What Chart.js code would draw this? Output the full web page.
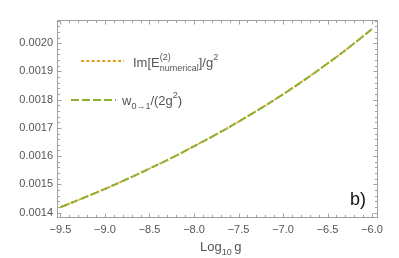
<!DOCTYPE html>
<html>
<head>
<meta charset="utf-8">
<script src="https://cdn.jsdelivr.net/npm/chart.js@4.4.0/dist/chart.umd.min.js"></script>
<style>
  html, body { margin: 0; padding: 0; background: #fff; }
  #wrap { width: 399px; height: 258px; }
</style>
</head>
<body>
<div id="wrap"><canvas id="chart"></canvas></div>
<script>
// values
const logG = [-9.5, -9.25, -9.0, -8.75, -8.5, -8.25, -8.0, -7.75, -7.5, -7.25, -7.0, -6.75, -6.5, -6.25, -6.0];
const imNumerical = [0.001419, 0.001451, 0.001484, 0.001519, 0.001556, 0.001594, 0.001635, 0.001677,
                     0.001722, 0.001769, 0.001819, 0.001872, 0.001928, 0.001987, 0.002050];
const wRate = [0.001419, 0.001451, 0.001484, 0.001519, 0.001556, 0.001594, 0.001635, 0.001677,
               0.001722, 0.001769, 0.001819, 0.001872, 0.001928, 0.001987, 0.002050];

const xTicks = [-9.5, -9.0, -8.5, -8.0, -7.5, -7.0, -6.5, -6.0];
const xTickLabels = ['\u22129.5', '\u22129.0', '\u22128.5', '\u22128.0', '\u22127.5', '\u22127.0', '\u22126.5', '\u22126.0'];
const yTicks = [0.0014, 0.0015, 0.0016, 0.0017, 0.0018, 0.0019, 0.0020];
const yTickLabels = ['0.0014', '0.0015', '0.0016', '0.0017', '0.0018', '0.0019', '0.0020'];

const ORANGE = '#E19C24';
const GREEN = '#8FB032';
const FONT = "'Liberation Sans', Arial, sans-serif";
const TEXT = '#555';

function toPoints(xs, ys)
{
      return xs.map((x, i) => ({ x: x, y: ys[i] }));
}

// text with sub/superscripts, parts drawn left to right
function richText(ctx, x, y, parts, size)
{
      const big = size + 'px ' + FONT;
      const small = Math.round(size * 0.72) + 'px ' + FONT;
      for (const p of parts)
      {
            if (p.sup !== undefined || p.sub !== undefined)
            {
                  ctx.font = small;
                  let w = 0;
                  if (p.sup) { ctx.fillText(p.sup, x, y - 7.5); w = ctx.measureText(p.sup).width; }
                  if (p.sub) { ctx.fillText(p.sub, x, y + 3.5); w = Math.max(w, ctx.measureText(p.sub).width); }
                  x += w;
            }
            else
            {
                  ctx.font = big;
                  ctx.fillText(p.t, x, y);
                  x += ctx.measureText(p.t).width;
            }
      }
}

const frameTicks = {
      id: 'frameTicks',
      afterDraw(chart)
      {
            const { ctx, chartArea: a, scales: { x, y } } = chart;
            const L = Math.round(a.left) + 0.5, R = Math.round(a.right) - 0.5;
            const T = Math.round(a.top) + 0.5, B = Math.round(a.bottom) - 0.5;
            ctx.save();
            ctx.strokeStyle = '#a0a0a0';
            ctx.lineWidth = 1;
            ctx.strokeRect(L, T, R - L, B - T);

            ctx.beginPath();
            for (let k = -96; k <= -59; k++)
            {
                  const v = k / 10;
                  if (v < x.min || v > x.max) continue;
                  const px = Math.round(x.getPixelForValue(v)) + 0.5;
                  const len = (k % 5 === 0) ? 4 : 2.5;
                  ctx.moveTo(px, B); ctx.lineTo(px, B - len);
                  ctx.moveTo(px, T); ctx.lineTo(px, T + len);
            }
            for (let k = 138; k <= 210; k += 2)
            {
                  const v = k * 1e-5;
                  if (v < y.min || v > y.max) continue;
                  const py = Math.round(y.getPixelForValue(v)) + 0.5;
                  const len = (k % 10 === 0) ? 4 : 2.5;
                  ctx.moveTo(L, py); ctx.lineTo(L + len, py);
                  ctx.moveTo(R, py); ctx.lineTo(R - len, py);
            }
            ctx.stroke();

            // legend
            ctx.lineWidth = 2;
            ctx.strokeStyle = ORANGE;
            ctx.setLineDash([3, 2.3]);
            ctx.beginPath(); ctx.moveTo(81, 61); ctx.lineTo(124, 61); ctx.stroke();
            ctx.strokeStyle = GREEN;
            ctx.setLineDash([8, 3]);
            ctx.beginPath(); ctx.moveTo(71, 100); ctx.lineTo(116, 100); ctx.stroke();
            ctx.setLineDash([]);

            ctx.fillStyle = TEXT;
            ctx.textBaseline = 'alphabetic';
            ctx.textAlign = 'left';
            richText(ctx, 133, 67, [
                  { t: 'Im[E' }, { sup: '(2)', sub: 'numerical' }, { t: ']/g' }, { sup: '2' }
            ], 13);
            richText(ctx, 122, 105, [
                  { t: 'w' }, { sub: '0\u21921' }, { t: '/(2g' }, { sup: '2' }, { t: ')' }
            ], 13);

            // axis title
            richText(ctx, 200, 251, [{ t: 'Log' }, { sub: '10' }, { t: '\u2009g' }], 13);

            // panel label
            ctx.fillStyle = '#111';
            ctx.font = '18px ' + FONT;
            ctx.fillText('b)', 350, 205);
            ctx.restore();
      }
};

const config = {
      type: 'line',
      data: {
            datasets: [{
                  label: 'w0→1/(2g^2)',
                  data: toPoints(logG, wRate),
                  borderColor: GREEN,
                  borderWidth: 2,
                  borderDash: [8, 3],
                  pointRadius: 0,
                  tension: 0.4,
                  fill: false,
                  order: 0
            }, {
                  label: 'Im[E(2) numerical]/g^2',
                  data: toPoints(logG, imNumerical),
                  borderColor: ORANGE,
                  borderWidth: 2,
                  borderDash: [2, 2],
                  pointRadius: 0,
                  tension: 0.4,
                  fill: false,
                  order: 1
            }]
      },
      options: {
            responsive: true,
            maintainAspectRatio: false,
            animation: false,
            layout: { padding: { top: 20, right: 21, left: 0, bottom: 0 } },
            plugins: {
                  legend: { display: false },
                  tooltip: { enabled: false }
            },
            scales: {
                  x: {
                        type: 'linear',
                        min: -9.539,
                        max: -5.933,
                        grid: { display: false, drawTicks: false },
                        border: { display: false },
                        afterBuildTicks: (s) => { s.ticks = xTicks.map(v => ({ value: v })); },
                        afterFit: (s) => { s.height = 40; },
                        ticks: {
                              padding: 5,
                              color: TEXT,
                              autoSkip: false,
                              maxRotation: 0,
                              font: { family: FONT, size: 11 },
                              callback: (v, i) => xTickLabels[i]
                        }
                  },
                  y: {
                        type: 'linear',
                        min: 0.001381,
                        max: 0.002082,
                        grid: { display: false, drawTicks: false },
                        border: { display: false },
                        afterBuildTicks: (s) => { s.ticks = yTicks.map(v => ({ value: v })); },
                        afterFit: (s) => { s.width = 57; },
                        ticks: {
                              padding: 4,
                              color: TEXT,
                              font: { family: FONT, size: 11 },
                              callback: (v, i) => yTickLabels[i]
                        }
                  }
            }
      },
      plugins: [frameTicks]
};

new Chart(document.getElementById('chart'), config);
</script>
</body>
</html>
